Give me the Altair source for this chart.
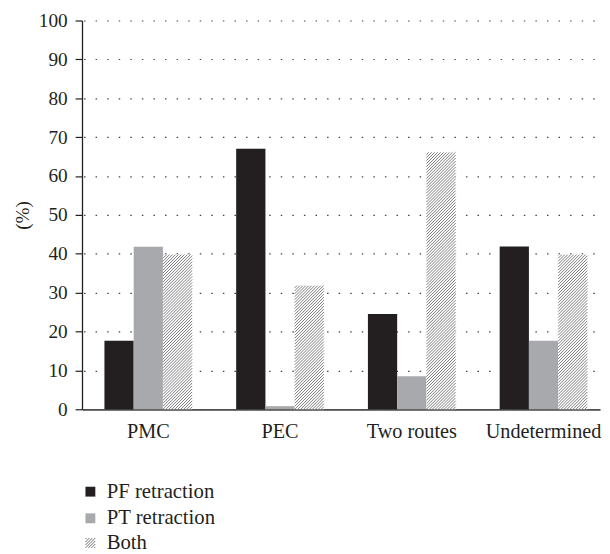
import math
import altair as alt
import pandas as pd

categories = ["PMC", "PEC", "Two routes", "Undetermined"]
series = ["PF retraction", "PT retraction", "Both"]
pf_retraction = [17.6, 67.0, 24.5, 41.9]
pt_retraction = [41.8, 0.8, 8.5, 17.6]
both = [39.8, 31.8, 66.1, 39.8]
y_ticks = list(range(0, 101, 10))
solid_colors = ["#231f20", "#a7a9ac"]

rows = []
for i, c in enumerate(categories):
    for s, vals in zip(series, [pf_retraction, pt_retraction, both]):
        rows.append({"group": c, "series": s, "value": vals[i]})
df = pd.DataFrame(rows)

W, H = 525, 394
PAD_L, PAD_T = 75, 9
FONT = "Liberation Serif"
INK = "#231f20"
HATCH = "#6d6e71"
PI, PO, AL = 0.334, 0.133, 0.64
n_cat = len(categories)
step = W / (n_cat - PI + 2 * PO)
band_px = step * (1 - PI)
bar_w = band_px / len(series)
SPACING = 3.0  # horizontal distance between hatch lines, px

# hatch lines ('/' at 45 degrees) clipped to each "Both" bar, derived from its value
hatch_rows = []
lid = 0
for c, v in zip(categories, both):
    top = v / 100.0 * H
    x_left = 2 * bar_w
    for j in range(int(math.ceil(-bar_w / SPACING)), int(math.floor(top / SPACING)) + 1):
        d = j * SPACING
        xa, xb = max(0.0, -d), min(bar_w, top - d)
        if xb - xa < 0.05:
            continue
        for xr in (xa, xb):
            hatch_rows.append({"group": c, "lid": lid, "xo": x_left + xr,
                               "val": (xr + d) / H * 100.0})
        lid += 1
hatch_df = pd.DataFrame(hatch_rows)

# legend symbol for "Both": a hatched square as a custom symbol path
sym_parts = []
for cc in [-1.8, -1.2, -0.6, 0.0, 0.6, 1.2, 1.8]:
    xa, xb = max(-1.0, cc - 1.0), min(1.0, cc + 1.0)
    sym_parts.append(f"M{xa:.2f},{cc - xa:.2f}L{xb:.2f},{cc - xb:.2f}")
hatch_symbol = "".join(sym_parts)

x_axis = alt.Axis(ticks=False, domainColor="#4d4d4d", domainWidth=1.8,
                  labelFont=FONT, labelFontSize=20.5, labelColor=INK,
                  labelPadding=13, labelAngle=0, grid=False)
x_scale = alt.Scale(paddingInner=PI, paddingOuter=PO, align=AL)
x_enc = alt.X("group:N", sort=categories, title=None, scale=x_scale, axis=x_axis)
xoff = alt.XOffset("series:N", sort=series,
                   scale=alt.Scale(domain=series, paddingInner=0, paddingOuter=0))
y_scale = alt.Scale(domain=[0, 100], nice=False)
y_axis = alt.Axis(values=y_ticks, tickSize=7, tickColor=INK, tickWidth=1.2,
                  domainColor=INK, domainWidth=1.3,
                  labelFont=FONT, labelFontSize=19.5, labelColor=INK, labelPadding=8,
                  grid=True, gridColor="#444444", gridDash=[1.5, 10.23],
                  gridDashOffset=10.2, gridWidth=1.2,
                  titleFont=FONT, titleFontSize=19.5, titleFontWeight="normal",
                  titleColor=INK, titleX=-60, titleY=197, titleAngle=270,
                  titleAlign="center", titleBaseline="middle")
y_enc = alt.Y("value:Q", title="(%)", scale=y_scale, axis=y_axis)

legend_common = dict(title=None, orient="none", legendX=-2, direction="vertical",
                     symbolSize=100, labelFont=FONT, labelFontSize=21,
                     labelColor=INK, labelOffset=6, rowPadding=5, padding=0)

solid = alt.Chart(df).transform_filter(alt.datum.series != "Both").mark_bar().encode(
    x=x_enc, xOffset=xoff, y=y_enc,
    color=alt.Color("series:N", sort=series,
                    scale=alt.Scale(domain=series[:2], range=solid_colors),
                    legend=alt.Legend(legendY=467, symbolType="square",
                                      symbolStrokeWidth=0, **legend_common)),
)

both_bg = alt.Chart(df).transform_filter(alt.datum.series == "Both").mark_bar(
    color="#ffffff").encode(x=x_enc, xOffset=xoff, y=y_enc)

hatch = alt.Chart(hatch_df).mark_line(color=HATCH, strokeWidth=0.9, strokeCap="butt").encode(
    x=alt.X("group:N", sort=categories, title=None, scale=x_scale, axis=x_axis,
            bandPosition=0),
    xOffset=alt.XOffset("xo:Q", scale=alt.Scale(domain=[0, band_px], range=[0, band_px],
                                                nice=False, zero=False)),
    y=alt.Y("val:Q", title="(%)", scale=y_scale, axis=y_axis),
    detail="lid:N",
)

both_key = alt.Chart(df).transform_filter("false").mark_point(
    filled=False, color=HATCH, strokeWidth=1, opacity=1).encode(
    x=x_enc, y=y_enc,
    shape=alt.Shape("series:N",
                    scale=alt.Scale(domain=["Both"], range=[hatch_symbol]),
                    legend=alt.Legend(legendY=519, symbolStrokeColor=HATCH,
                                      symbolFillColor="#ffffff", symbolStrokeWidth=1,
                                      symbolOpacity=1, **legend_common)),
)

chart = (
    alt.layer(solid, both_bg, hatch, both_key)
    .resolve_scale(xOffset="independent", color="independent", shape="independent")
    .properties(width=W, height=H, autosize=alt.AutoSizeParams(type="none"),
                padding={"left": PAD_L, "top": PAD_T, "right": 2, "bottom": 143})
    .configure_view(stroke=None)
)

chart.save("out.html", embed_options={"renderer": "svg", "actions": False})
